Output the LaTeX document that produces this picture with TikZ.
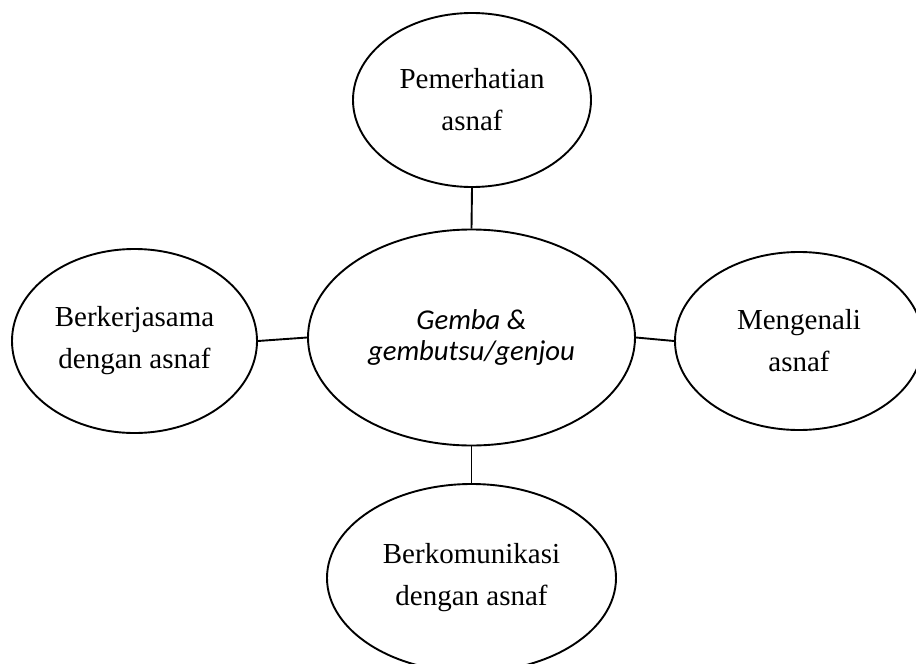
\documentclass[tikz,border=0pt]{standalone}
\usepackage{fontspec}
\setmainfont{Liberation Serif}
\newfontfamily\calibrilike{Carlito}
\usetikzlibrary{shapes.geometric}
\begin{document}
\begin{tikzpicture}[x=1pt,y=-1pt,
  bubble/.style={ellipse,draw=black,line width=1.9pt,inner sep=0pt,align=center,
    font=\fontsize{29}{42}\selectfont},
  link/.style={draw=black,line width=1.9pt}]
\clip (0,0) rectangle (916,664);
\fill[white] (0,0) rectangle (916,664);
% hub
\node[bubble,minimum width=327pt,minimum height=216pt,
  font=\calibrilike\itshape\fontsize{28.7}{30.5}\selectfont] (hub) at (471.5,337.5)
  {Gemba \&\\gembutsu/genjou};
% satellites
\node[bubble,minimum width=238pt,minimum height=174pt] (top) at (472,100)
  {Pemerhatian\\asnaf};
\node[bubble,minimum width=245pt,minimum height=184pt] (left) at (134.5,341)
  {Berkerjasama\\dengan asnaf};
\node[bubble,minimum width=248pt,minimum height=178pt] (right) at (799,341)
  {Mengenali\\asnaf};
\node[bubble,minimum width=289pt,minimum height=188pt] (bottom) at (471.5,578)
  {Berkomunikasi\\dengan asnaf};
% connectors
\draw[link] (hub.north) -- (top.south);
\draw[link] (hub.south) -- (bottom.north);
\draw[link] (hub.west) -- (left.east);
\draw[link] (hub.east) -- (right.west);
\end{tikzpicture}
\end{document}
